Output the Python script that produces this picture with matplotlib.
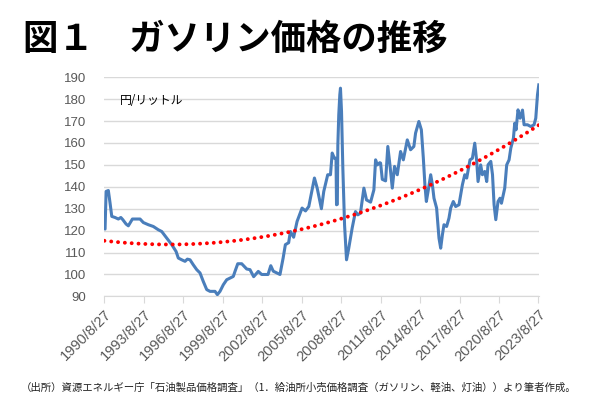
import matplotlib
matplotlib.use("Agg")
import matplotlib.pyplot as plt
import numpy as np

plt.rcParams['font.family'] = ['Noto Sans CJK JP', 'DejaVu Sans']

# gasoline retail price (yen/litre)
years = [1990.65, 1990.70, 1990.78, 1990.95, 1991.08, 1991.21, 1991.46, 1991.71, 1991.90,
         1992.05, 1992.30, 1992.47, 1992.78, 1993.36, 1993.61, 1993.99, 1994.37, 1994.75,
         1995.01, 1995.39, 1995.77, 1996.10, 1996.27, 1996.53, 1996.78, 1996.96, 1997.16,
         1997.41, 1997.67, 1997.92, 1998.17, 1998.43, 1998.68, 1999.06, 1999.24, 1999.44,
         1999.69, 1999.95, 2000.45, 2000.58, 2000.79, 2001.09, 2001.47, 2001.72, 2002.00,
         2002.35, 2002.61, 2003.09, 2003.30, 2003.49, 2004.00, 2004.24, 2004.41, 2004.66,
         2004.79, 2005.04, 2005.30, 2005.68, 2005.94, 2006.19, 2006.37, 2006.62, 2006.83,
         2007.15, 2007.33, 2007.63, 2007.84, 2007.97, 2008.14, 2008.26, 2008.30, 2008.36,
         2008.40, 2008.47, 2008.55, 2008.60, 2008.68, 2008.78, 2008.91, 2009.06, 2009.23,
         2009.49, 2009.74, 2009.92, 2010.12, 2010.38, 2010.58, 2010.89, 2011.14, 2011.27,
         2011.40, 2011.59, 2011.65, 2011.78, 2012.03, 2012.20, 2012.36, 2012.54, 2012.71,
         2012.92, 2013.17, 2013.38, 2013.68, 2013.93, 2014.18, 2014.31, 2014.56, 2014.75,
         2014.90, 2015.02, 2015.13, 2015.28, 2015.46, 2015.59, 2015.71, 2015.91, 2016.09,
         2016.22, 2016.35, 2016.47, 2016.67, 2016.85, 2016.98, 2017.18, 2017.36, 2017.61,
         2017.87, 2018.05, 2018.20, 2018.45, 2018.63, 2018.81, 2018.96, 2019.06, 2019.26,
         2019.39, 2019.57, 2019.72, 2019.82, 2020.03, 2020.16, 2020.28, 2020.41, 2020.58,
         2020.73, 2020.84, 2021.09, 2021.24, 2021.42, 2021.55, 2021.75, 2021.85, 2021.95,
         2022.10, 2022.26, 2022.44, 2022.56, 2022.82, 2023.07, 2023.32, 2023.45, 2023.58,
         2023.68]
prices = [121.0, 120.7, 137.9, 138.3, 132.6, 126.5, 126.0, 125.3, 126.0,
          125.0, 123.0, 122.2, 125.3, 125.3, 123.7, 122.7, 121.9, 120.4,
          119.6, 116.6, 113.6, 110.5, 107.5, 106.7, 106.0, 107.0, 106.7,
          104.4, 102.2, 100.7, 96.8, 93.1, 92.3, 92.3, 90.8, 92.3,
          95.3, 97.6, 99.1, 101.4, 104.9, 104.9, 102.5, 102.2, 99.0,
          101.4, 100.0, 100.0, 104.0, 101.5, 100.0, 107.5, 113.6, 114.5,
          119.6, 117.0, 124.2, 130.3, 129.0, 131.0, 136.4, 144.0, 139.4,
          130.0, 137.9, 145.5, 145.5, 155.4, 153.0, 153.0, 131.8, 132.0,
          159.0, 172.8, 182.0, 185.0, 174.3, 148.5, 122.7, 106.7, 112.0,
          121.2, 128.7, 127.2, 128.0, 139.4, 134.0, 133.0, 138.6, 152.3,
          150.0, 151.0, 150.8, 143.4, 142.7, 158.4, 150.0, 139.4, 149.3,
          145.5, 156.1, 152.3, 161.4, 156.9, 158.4, 164.5, 169.8, 166.0,
          153.1, 140.9, 133.3, 138.6, 145.5, 140.9, 134.8, 130.3, 116.6,
          112.0, 118.1, 122.7, 121.9, 125.7, 130.3, 133.3, 131.0, 131.8,
          140.9, 145.5, 144.0, 152.3, 153.0, 159.9, 151.6, 142.4, 150.0,
          145.5, 147.0, 142.4, 150.0, 151.6, 145.5, 131.8, 125.0, 133.3,
          134.8, 132.5, 139.4, 150.0, 152.3, 157.6, 162.2, 169.0, 166.0,
          175.1, 171.3, 175.0, 168.3, 168.3, 167.5, 168.3, 171.3, 182.0,
          186.5]

# points read on the dotted (2nd order polynomial) trend line
trend_years = [1990.65, 1994.64, 1999.71, 2004.79, 2009.61, 2015.07, 2023.58]
trend_vals = [115.5, 113.6, 114.6, 119.9, 127.2, 139.7, 167.8]

tick_labels = ['1990/8/27', '1993/8/27', '1996/8/27', '1999/8/27', '2002/8/27', '2005/8/27',
               '2008/8/27', '2011/8/27', '2014/8/27', '2017/8/27', '2020/8/27', '2023/8/27']
tick_pos = [int(s.split('/')[0]) + 238 / 365 for s in tick_labels]

fig = plt.figure(figsize=(6, 4), dpi=100)
ax = fig.add_axes([0.174, 0.259, 0.724, 0.548])

ax.plot(years, prices, color='#4a7ebb', lw=2.2, solid_joinstyle='round', zorder=3)

coef = np.polyfit(trend_years, trend_vals, 2)
tx = np.linspace(years[0], years[-1], 200)
ax.plot(tx, np.polyval(coef, tx), color='#ff0000', lw=2.8,
        linestyle=(0, (0.01, 1.75)), dash_capstyle='round', zorder=4)

ax.set_xlim(years[0], years[-1])
ax.set_ylim(90, 190)
ax.set_yticks(range(90, 191, 10))
ax.set_xticks(tick_pos)
ax.set_xticklabels(tick_labels, rotation=45, ha='right', rotation_mode='anchor',
                   family='Liberation Sans', fontsize=10.5, color='#595959')
for lab in ax.get_yticklabels():
    lab.set_family('Liberation Sans')
ax.tick_params(axis='y', length=0, pad=13, labelsize=9.5, labelcolor='#595959')
ax.tick_params(axis='x', length=5, width=0.8, color='#d9d9d9', pad=3)
ax.grid(axis='y', color='#d9d9d9', lw=1)
ax.set_axisbelow(True)
for s in ['left', 'right', 'top']:
    ax.spines[s].set_visible(False)
ax.spines['bottom'].set_color('#d9d9d9')

ax.text(0.035, 0.895, '円/リットル', transform=ax.transAxes, fontsize=8.5, va='center')

fig.text(0.038, 0.902, '図１　ガソリン価格の推移', fontsize=25.5, fontweight='bold', va='center')
fig.text(0.035, 0.032,
         '（出所）資源エネルギー庁「石油製品価格調査」（1．給油所小売価格調査（ガソリン、軽油、灯油））より筆者作成。',
         fontsize=7.5, va='center', color='#222222')

fig.savefig('out.png', dpi=100)
